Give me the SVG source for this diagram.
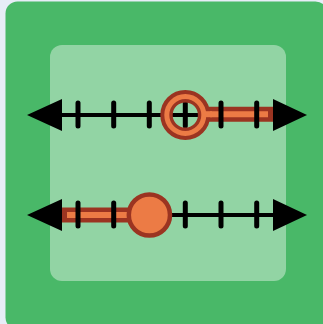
<svg xmlns="http://www.w3.org/2000/svg" width="323" height="324" viewBox="0 0 323 324">
<style>
.axis{stroke:#000;stroke-width:4;fill:none}
.tick{stroke:#000;stroke-width:5;stroke-linecap:round}
.arrow{fill:#000}
.barOut{stroke:#9b3421;stroke-width:15;fill:none}
.barIn{stroke:#ec7b45;stroke-width:6;fill:none}
</style>
<rect x="0" y="0" width="323" height="324" fill="#e7edf7"/>
<rect x="5.5" y="1.5" width="322" height="328" rx="12" fill="#49b868"/>
<rect x="50" y="45" width="236" height="236" rx="12" fill="#92d4a4"/>
<g id="line1">
<line class="axis" x1="45" y1="115" x2="290" y2="115"/>
<polygon class="arrow" points="27,115 62,99 62,131"/>
<polygon class="arrow" points="307,115 273,99 273,131"/>
<line class="barOut" x1="200" y1="114.2" x2="273" y2="114.2"/>
<line class="barIn" x1="200" y1="114.2" x2="268" y2="114.2"/>
<g>
<line class="tick" x1="78" y1="103" x2="78" y2="126"/>
<line class="tick" x1="113.7" y1="103" x2="113.7" y2="126"/>
<line class="tick" x1="149.3" y1="103" x2="149.3" y2="126"/>
<line class="tick" x1="185.3" y1="103" x2="185.3" y2="126"/>
<line class="tick" x1="221" y1="103" x2="221" y2="126"/>
<line class="tick" x1="256.7" y1="103" x2="256.7" y2="126"/>
</g>
<circle cx="185.3" cy="115" r="18.8" fill="none" stroke="#9b3421" stroke-width="12.4"/>
<circle cx="185.3" cy="115" r="18.5" fill="none" stroke="#ec7b45" stroke-width="5"/>
<line class="barIn" x1="203" y1="114.2" x2="212" y2="114.2"/>
</g>
<g id="line2">
<line class="axis" x1="45" y1="215" x2="290" y2="215"/>
<polygon class="arrow" points="27,215 62,199 62,231"/>
<polygon class="arrow" points="307,215 273,199 273,231"/>
<line class="barOut" x1="62" y1="215" x2="140" y2="215"/>
<line class="barIn" x1="67" y1="215" x2="140" y2="215"/>
<g>
<line class="tick" x1="78" y1="203" x2="78" y2="226"/>
<line class="tick" x1="113.7" y1="203" x2="113.7" y2="226"/>
<line class="tick" x1="185.3" y1="203" x2="185.3" y2="226"/>
<line class="tick" x1="221" y1="203" x2="221" y2="226"/>
<line class="tick" x1="256.7" y1="203" x2="256.7" y2="226"/>
</g>
<circle cx="149.4" cy="215" r="20.6" fill="#ec7b45" stroke="#9b3421" stroke-width="4.5"/>
</g>
</svg>
